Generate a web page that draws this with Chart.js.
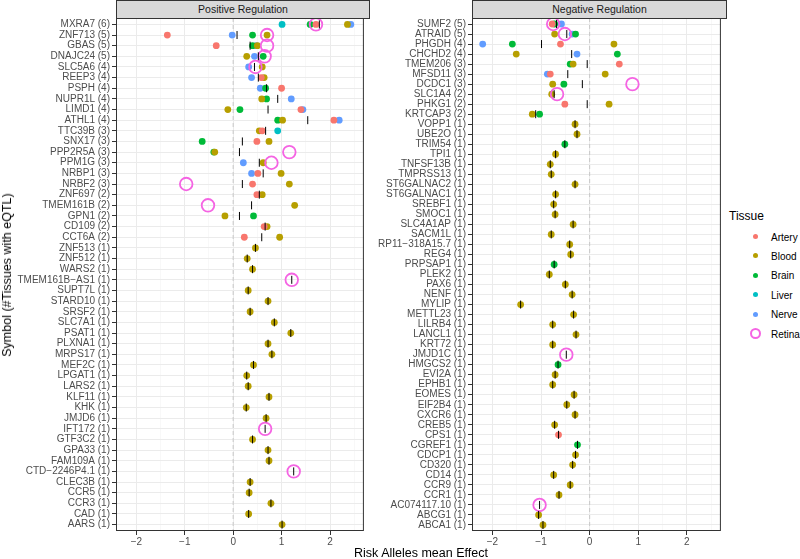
<!DOCTYPE html>
<html>
<head>
<meta charset="utf-8">
<script src="https://cdn.jsdelivr.net/npm/chart.js@4.4.1/dist/chart.umd.min.js"></script>
<style>
  body { margin: 0; background: #fff; font-family: "Liberation Sans", Arial, sans-serif; }
  #wrap { position: relative; width: 800px; height: 559px; overflow: hidden; }
  canvas { position: absolute; top: 0; }
  .strip { position: absolute; top: 0; height: 19px; background: #D9D9D9; border: 1px solid #333;
           box-sizing: border-box; text-align: center; font-size: 10.5px; line-height: 17px; color: #1A1A1A; }
  .ytitle { position: absolute; left: 7px; top: 275px; transform: translate(-50%, -50%) rotate(-90deg);
            white-space: nowrap; font-size: 12.5px; color: #000; }
  .xtitle { position: absolute; left: 421px; top: 553px; transform: translate(-50%, -50%);
            white-space: nowrap; font-size: 12.5px; color: #000; }
  .legend-title { position: absolute; left: 729px; top: 209px; font-size: 12px; color: #000; }
  .key { position: absolute; left: 745px; width: 60px; height: 19px; }
  .key span.dot { position: absolute; left: 10px; top: 50%; width: 5px; height: 5px; margin: -2.5px 0 0 -2.5px; border-radius: 50%; }
  .key span.ring { position: absolute; left: 10px; top: 50%; width: 7px; height: 7px; margin: -5.5px 0 0 -5.5px; border-radius: 50%; border: 2px solid #F564E3; }
  .key span.lab { position: absolute; left: 26px; top: 50%; transform: translateY(-50%); font-size: 10px; color: #000; }
</style>
</head>
<body>
<div id="wrap">
  <canvas id="posChart" width="372" height="559" style="left:0px;width:372px;height:559px"></canvas>
  <canvas id="negChart" width="359" height="559" style="left:370px;width:359px;height:559px"></canvas>
  <div class="strip" style="left:116px;width:254px">Positive Regulation</div>
  <div class="strip" style="left:472px;width:255px">Negative Regulation</div>
  <div class="ytitle">Symbol (#Tissues with eQTL)</div>
  <div class="xtitle">Risk Alleles mean Effect</div>
  <div class="legend-title">Tissue</div>
  <div id="legend"></div>
</div>
<script>
// Ejes compartidos
const xMin = -2.42;
const xMax = 2.70;
const xTickVals = [-2, -1.5, -1, -0.5, 0, 0.5, 1, 1.5, 2, 2.5];

const tissues = ['Artery', 'Blood', 'Brain', 'Liver', 'Nerve', 'Retina'];
const tissueColors = ['#F8766D', '#B79F00', '#00BA38', '#00BFC4', '#619CFF', '#F564E3'];

// Panel izquierdo: Positive Regulation
const posGenes = ['MXRA7', 'ZNF713', 'GBAS', 'DNAJC24', 'SLC5A6', 'REEP3', 'PSPH', 'NUPR1L', 'LIMD1', 'ATHL1',
  'TTC39B', 'SNX17', 'PPP2R5A', 'PPM1G', 'NRBP1', 'NRBF2', 'ZNF697', 'TMEM161B', 'GPN1', 'CD109',
  'CCT6A', 'ZNF513', 'ZNF512', 'WARS2', 'TMEM161B-AS1', 'SUPT7L', 'STARD10', 'SRSF2', 'SLC7A1', 'PSAT1',
  'PLXNA1', 'MRPS17', 'MEF2C', 'LPGAT1', 'LARS2', 'KLF11', 'KHK', 'JMJD6', 'IFT172', 'GTF3C2',
  'GPA33', 'FAM109A', 'CTD-2246P4.1', 'CLEC3B', 'CCR5', 'CCR3', 'CAD', 'AARS'];
const posCounts = [6, 5, 5, 5, 4, 4, 4, 4, 4, 4,
  3, 3, 3, 3, 3, 3, 2, 2, 2, 2,
  2, 1, 1, 1, 1, 1, 1, 1, 1, 1,
  1, 1, 1, 1, 1, 1, 1, 1, 1, 1,
  1, 1, 1, 1, 1, 1, 1, 1];
const posArtery = [['MXRA7', 1.71], ['ZNF713', -1.36], ['GBAS', -0.35], ['REEP3', 0.58], ['PSPH', 1.00],
  ['LIMD1', 1.40], ['ATHL1', 2.08], ['TTC39B', 0.60], ['SNX17', 0.49], ['NRBP1', 0.51], ['NRBF2', 0.40],
  ['ZNF697', 0.49], ['CD109', 0.64], ['CCT6A', 0.23]];
const posBlood = [['MXRA7', 2.36], ['ZNF713', 0.70], ['GBAS', 0.50], ['DNAJC24', 0.28], ['SLC5A6', 0.60],
  ['REEP3', 0.64], ['NUPR1L', 0.59], ['LIMD1', -0.11], ['ATHL1', 1.02], ['TTC39B', 0.54], ['SNX17', 0.74],
  ['PPP2R5A', -0.38], ['PPM1G', 0.62], ['NRBP1', 0.99], ['NRBF2', 1.16], ['ZNF697', 0.60], ['TMEM161B', 1.27],
  ['GPN1', -0.17], ['CD109', 0.70], ['CCT6A', 0.96], ['ZNF513', 0.46], ['ZNF512', 0.29], ['WARS2', 0.40],
  ['SUPT7L', 0.31], ['STARD10', 0.72], ['SRSF2', 0.35], ['SLC7A1', 0.85], ['PSAT1', 1.19], ['PLXNA1', 0.72],
  ['MRPS17', 0.80], ['MEF2C', 0.42], ['LPGAT1', 0.28], ['LARS2', 0.31], ['KLF11', 0.74], ['KHK', 0.27],
  ['JMJD6', 0.68], ['GTF3C2', 0.40], ['GPA33', 0.72], ['FAM109A', 0.74], ['CLEC3B', 0.35], ['CCR5', 0.33],
  ['CCR3', 0.78], ['CAD', 0.32], ['AARS', 1.01]];
const posBrain = [['MXRA7', 1.59], ['ZNF713', 0.40], ['GBAS', 0.40], ['DNAJC24', 0.62], ['PSPH', 0.67],
  ['NUPR1L', 0.69], ['LIMD1', 0.14], ['ATHL1', 0.92], ['SNX17', -0.64], ['PPP2R5A', -0.40], ['GPN1', 0.42]];
const posLiver = [['MXRA7', 1.01], ['TTC39B', 0.92]];
const posNerve = [['MXRA7', 2.43], ['ZNF713', -0.02], ['GBAS', 0.48], ['DNAJC24', 0.44], ['SLC5A6', 0.32],
  ['REEP3', 0.38], ['PSPH', 0.56], ['NUPR1L', 1.20], ['LIMD1', 1.44], ['ATHL1', 2.19], ['PPM1G', 0.21],
  ['NRBP1', 0.38]];
const posRetina = [['MXRA7', 1.71], ['ZNF713', 0.70], ['GBAS', 0.70], ['DNAJC24', 0.65], ['SLC5A6', 0.46],
  ['PPP2R5A', 1.16], ['PPM1G', 0.79], ['NRBF2', -0.97], ['TMEM161B', -0.52], ['TMEM161B-AS1', 1.21],
  ['IFT172', 0.66], ['CTD-2246P4.1', 1.25]];
const posMean = [1.78, 0.08, 0.35, 0.52, 0.44, 0.52, 0.69, 0.92, 0.72, 1.54,
  0.67, 0.19, 0.13, 0.54, 0.62, 0.19, 0.54, 0.38, 0.13, 0.66,
  0.59, 0.46, 0.29, 0.40, 1.21, 0.31, 0.72, 0.35, 0.85, 1.19,
  0.72, 0.80, 0.42, 0.28, 0.31, 0.74, 0.27, 0.68, 0.66, 0.40,
  0.72, 0.74, 1.25, 0.35, 0.33, 0.78, 0.32, 1.01];

// Panel derecho: Negative Regulation
const negGenes = ['SUMF2', 'ATRAID', 'PHGDH', 'CHCHD2', 'TMEM206', 'MFSD11', 'DCDC1', 'SLC1A4', 'PHKG1', 'KRTCAP3',
  'VOPP1', 'UBE2O', 'TRIM54', 'TPI1', 'TNFSF13B', 'TMPRSS13', 'ST6GALNAC2', 'ST6GALNAC1', 'SREBF1', 'SMOC1',
  'SLC4A1AP', 'SACM1L', 'RP11-318A15.7', 'REG4', 'PRPSAP1', 'PLEK2', 'PAX6', 'NENF', 'MYLIP', 'METTL23',
  'LILRB4', 'LANCL1', 'KRT72', 'JMJD1C', 'HMGCS2', 'EVI2A', 'EPHB1', 'EOMES', 'EIF2B4', 'CXCR6',
  'CREB5', 'CPS1', 'CGREF1', 'CDCP1', 'CD320', 'CD14', 'CCR9', 'CCR1', 'AC074117.10', 'ABCG1', 'ABCA1'];
const negCounts = [5, 5, 4, 4, 3, 3, 3, 2, 2, 2,
  1, 1, 1, 1, 1, 1, 1, 1, 1, 1,
  1, 1, 1, 1, 1, 1, 1, 1, 1, 1,
  1, 1, 1, 1, 1, 1, 1, 1, 1, 1,
  1, 1, 1, 1, 1, 1, 1, 1, 1, 1, 1];
const negArtery = [['SUMF2', -0.77], ['PHGDH', -0.60], ['TMEM206', 0.61], ['MFSD11', -0.81], ['PHKG1', -0.51],
  ['CPS1', -0.64]];
const negBlood = [['ATRAID', -0.72], ['PHGDH', 0.50], ['CHCHD2', -1.51], ['TMEM206', -0.34], ['MFSD11', 0.32],
  ['DCDC1', -0.76], ['SLC1A4', -0.78], ['PHKG1', 0.40], ['KRTCAP3', -1.18], ['VOPP1', -0.30], ['UBE2O', -0.26],
  ['TPI1', -0.70], ['TNFSF13B', -0.81], ['TMPRSS13', -0.79], ['ST6GALNAC2', -0.30], ['ST6GALNAC1', -0.70],
  ['SREBF1', -0.74], ['SMOC1', -0.71], ['SLC4A1AP', -0.34], ['SACM1L', -0.79], ['RP11-318A15.7', -0.41],
  ['REG4', -0.39], ['PLEK2', -0.83], ['PAX6', -0.50], ['NENF', -0.36], ['MYLIP', -1.42], ['METTL23', -0.33],
  ['LILRB4', -0.76], ['LANCL1', -0.28], ['KRT72', -0.76], ['EVI2A', -0.71], ['EPHB1', -0.76], ['EOMES', -0.32],
  ['EIF2B4', -0.47], ['CXCR6', -0.30], ['CREB5', -0.72], ['CDCP1', -0.29], ['CD320', -0.35], ['CD14', -0.74],
  ['CCR9', -0.40], ['CCR1', -0.63], ['ABCG1', -1.05], ['ABCA1', -0.96]];
const negBrain = [['SUMF2', -0.72], ['ATRAID', -0.29], ['PHGDH', -1.59], ['CHCHD2', 0.57], ['TMEM206', -0.40],
  ['DCDC1', -0.53], ['KRTCAP3', -1.03], ['TRIM54', -0.51], ['PRPSAP1', -0.73], ['HMGCS2', -0.65],
  ['CGREF1', -0.25]];
const negLiver = [];
const negNerve = [['SUMF2', -0.58], ['ATRAID', -0.36], ['PHGDH', -2.20], ['CHCHD2', -0.26], ['MFSD11', -0.87]];
const negRetina = [['SUMF2', -0.75], ['ATRAID', -0.51], ['DCDC1', 0.88], ['SLC1A4', -0.67], ['JMJD1C', -0.48],
  ['AC074117.10', -1.03]];
const negMean = [-0.68, -0.47, -0.99, -0.37, -0.05, -0.45, -0.15, -0.73, -0.05, -1.11,
  -0.30, -0.26, -0.51, -0.70, -0.81, -0.79, -0.30, -0.70, -0.74, -0.71,
  -0.34, -0.79, -0.41, -0.39, -0.73, -0.83, -0.50, -0.36, -1.42, -0.33,
  -0.76, -0.28, -0.76, -0.48, -0.65, -0.71, -0.76, -0.32, -0.47, -0.30,
  -0.72, -0.64, -0.25, -0.29, -0.35, -0.74, -0.40, -0.63, -1.03, -1.05, -0.96];

const minus = s => String(s).replace(/-/g, '\u2212');

// Borde del panel (theme_bw)
const panelBorder = {
  id: 'panelBorder',
  afterDraw(chart) {
    const { ctx, chartArea: a } = chart;
    ctx.save();
    ctx.strokeStyle = '#333333';
    ctx.lineWidth = 1;
    ctx.strokeRect(a.left + 0.5, a.top + 0.5, a.right - a.left - 1, a.bottom - a.top - 1);
    ctx.restore();
  }
};

// orden de dibujo: menor = encima
const drawOrder = { Artery: 3, Blood: 4, Brain: 5, Liver: 6, Nerve: 7, Retina: 2 };

const makePanel = (canvasId, genes, counts, perTissue, means, yWidth) => {
  const n = genes.length;
  const labels = genes.map((g, i) => `${minus(g)} (${counts[i]})`);
  const datasets = [];

  datasets.push({
    type: 'line',
    data: [{ x: 0, y: -0.6 }, { x: 0, y: n - 0.4 }],
    borderColor: '#C8C8C8',
    borderWidth: 1,
    borderDash: [4, 3],
    pointRadius: 0,
    order: 20
  });

  tissues.forEach((t, k) => {
    const pts = perTissue[k].map(([g, v]) => ({ x: v, y: genes.indexOf(g) }));
    const isRetina = t === 'Retina';
    datasets.push({
      type: 'scatter',
      label: t,
      data: pts,
      pointRadius: isRetina ? 6.3 : 3.4,
      pointBackgroundColor: isRetina ? 'rgba(0,0,0,0)' : tissueColors[k],
      pointBorderColor: tissueColors[k],
      pointBorderWidth: isRetina ? 1.8 : 0,
      order: drawOrder[t]
    });
  });

  // media de efectos por gen
  datasets.push({
    type: 'scatter',
    label: 'mean',
    data: means.map((v, i) => ({ x: v, y: i })),
    pointStyle: 'line',
    pointRotation: 90,
    pointRadius: 4,
    pointBorderColor: '#000000',
    pointBorderWidth: 1,
    order: 0
  });

  return new Chart(document.getElementById(canvasId), {
    data: { datasets },
    plugins: [panelBorder],
    options: {
      responsive: false,
      animation: false,
      events: [],
      layout: { padding: { left: 0, top: 18, right: 3, bottom: 0 } },
      plugins: { legend: { display: false }, tooltip: { enabled: false } },
      scales: {
        x: {
          type: 'linear',
          min: xMin,
          max: xMax,
          afterBuildTicks: s => { s.ticks = xTickVals.map(v => ({ value: v })); },
          afterFit: s => { s.height = 28; },
          ticks: {
            autoSkip: false,
            maxRotation: 0,
            padding: 1,
            color: '#4D4D4D',
            font: { size: 10, family: '"Liberation Sans", Arial, sans-serif' },
            callback: v => Number.isInteger(v) ? minus(v) : ''
          },
          grid: {
            color: c => Number.isInteger(c.tick.value) ? '#EBEBEB' : '#F3F3F3',
            lineWidth: c => Number.isInteger(c.tick.value) ? 1 : 0.6,
            tickLength: 4,
            tickColor: c => Number.isInteger(c.tick.value) ? '#333333' : 'rgba(0,0,0,0)'
          },
          border: { display: false }
        },
        y: {
          type: 'linear',
          reverse: true,
          min: -0.6,
          max: n - 0.4,
          afterBuildTicks: s => { s.ticks = genes.map((g, i) => ({ value: i })); },
          afterFit: s => { s.width = yWidth; },
          ticks: {
            autoSkip: false,
            padding: 2,
            color: '#4D4D4D',
            font: { size: 10, family: '"Liberation Sans", Arial, sans-serif' },
            callback: v => labels[v]
          },
          grid: { color: '#EBEBEB', lineWidth: 1, tickLength: 4, tickColor: '#333333' },
          border: { display: false }
        }
      }
    }
  });
};

makePanel('posChart', posGenes, posCounts,
  [posArtery, posBlood, posBrain, posLiver, posNerve, posRetina], posMean, 116);
makePanel('negChart', negGenes, negCounts,
  [negArtery, negBlood, negBrain, negLiver, negNerve, negRetina], negMean, 102);

// Leyenda
const legend = document.getElementById('legend');
tissues.forEach((t, k) => {
  const key = document.createElement('div');
  key.className = 'key';
  key.style.top = (227 + k * 19.4) + 'px';
  const mark = t === 'Retina'
    ? '<span class="ring"></span>'
    : `<span class="dot" style="background:${tissueColors[k]}"></span>`;
  key.innerHTML = `${mark}<span class="lab">${t}</span>`;
  legend.appendChild(key);
});
</script>
</body>
</html>
